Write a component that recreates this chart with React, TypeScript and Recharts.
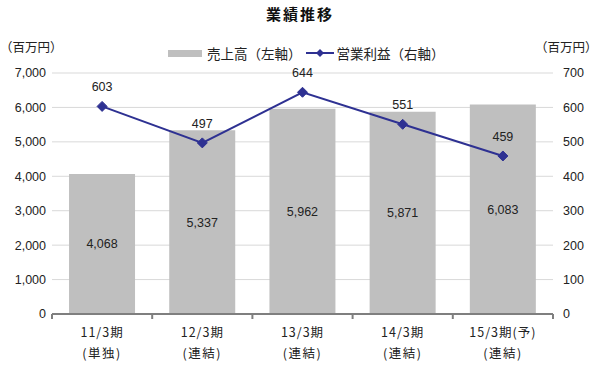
import React from "react";
import {
  ComposedChart,
  Bar,
  Line,
  XAxis,
  YAxis,
  CartesianGrid,
  LabelList,
} from "recharts";

const periods = ["11/3期", "12/3期", "13/3期", "14/3期", "15/3期(予)"];
const scopes = ["(単独)", "(連結)", "(連結)", "(連結)", "(連結)"];
const sales = [4068, 5337, 5962, 5871, 6083];
const operatingProfit = [603, 497, 644, 551, 459];
const leftTicks = [0, 1000, 2000, 3000, 4000, 5000, 6000, 7000];
const rightTicks = [0, 100, 200, 300, 400, 500, 600, 700];

const data = periods.map((p, i) => ({
  period: p,
  scope: scopes[i],
  sales: sales[i],
  profit: operatingProfit[i],
}));

const FONT = "'Liberation Sans', Arial, 'Noto Sans CJK JP', sans-serif";
const JP = "'Noto Sans CJK JP', sans-serif";
const BAR = "#bfbfbf";
const LINE = "#2e3192";
const AXIS = "#7f7f7f";

function CategoryTick(props: any) {
  const { x, y, payload, index } = props;
  const half = payload?.offset || 50;
  const row = data[index] || data.find((d) => d.period === payload.value);
  return (
    <g>
      <line x1={x - half} y1={y - 8} x2={x - half} y2={y - 3} stroke={AXIS} strokeWidth={2} />
      {index === data.length - 1 && (
        <line x1={x + half} y1={y - 8} x2={x + half} y2={y - 3} stroke={AXIS} strokeWidth={2} />
      )}
      <text x={x} y={y + 15} textAnchor="middle" fontFamily={JP} fontSize={12.5} letterSpacing={1} fill="#222">
        {payload.value}
      </text>
      <text x={x} y={y + 36} textAnchor="middle" fontFamily={JP} fontSize={12.5} letterSpacing={1.5} fill="#222">
        {row ? row.scope : ""}
      </text>
    </g>
  );
}

function Diamond(props: any) {
  const { cx, cy } = props;
  if (cx == null || cy == null) return null;
  const r = 5;
  return (
    <path
      d={`M${cx},${cy - r}L${cx + r},${cy}L${cx},${cy + r}L${cx - r},${cy}Z`}
      fill={LINE}
      stroke={LINE}
    />
  );
}

export default function App() {
  return (
    <div
      style={{
        position: "absolute",
        left: 0,
        top: 0,
        width: 600,
        height: 365,
        background: "#fff",
        fontFamily: FONT,
      }}
    >
      <div
        style={{
          position: "absolute",
          top: 3,
          width: 600,
          textAlign: "center",
          fontFamily: JP,
          fontWeight: 700,
          fontSize: 15,
          letterSpacing: 2,
          color: "#111",
        }}
      >
        業績推移
      </div>
      <div style={{ position: "absolute", left: 0, top: 37, fontFamily: JP, fontSize: 12.5, color: "#222" }}>
        （百万円）
      </div>
      <div style={{ position: "absolute", left: 535, top: 37, fontFamily: JP, fontSize: 12.5, color: "#222" }}>
        （百万円）
      </div>
      <div
        style={{
          position: "absolute",
          left: 168,
          top: 43,
          display: "flex",
          alignItems: "center",
          fontFamily: JP,
          fontSize: 13.5,
          color: "#222",
        }}
      >
        <span style={{ display: "inline-block", width: 34, height: 7, background: BAR, marginRight: 5 }} />
        <span>売上高（左軸）</span>
        <svg width={28} height={12} style={{ margin: "0 3px 0 4px" }}>
          <line x1={0} y1={6} x2={28} y2={6} stroke={LINE} strokeWidth={2} />
          <path d="M14,2L18,6L14,10L10,6Z" fill={LINE} />
        </svg>
        <span>営業利益（右軸）</span>
      </div>
      <ComposedChart
        width={600}
        height={365}
        data={data}
        margin={{ top: 73, right: 0, bottom: 0, left: 0 }}
        barCategoryGap="17%"
        style={{ position: "absolute", left: 0, top: 0 }}
      >
        <CartesianGrid vertical={false} stroke="#d9d9d9" yAxisId="left" />
        <XAxis
          dataKey="period"
          height={51}
          axisLine={{ stroke: AXIS, strokeWidth: 2 }}
          tickLine={false}
          interval={0}
          tick={<CategoryTick />}
        />
        <YAxis
          yAxisId="left"
          orientation="left"
          width={52}
          domain={[0, 7000]}
          ticks={leftTicks}
          axisLine={false}
          tickLine={false}
          tickMargin={0}
          tickFormatter={(v: number) => v.toLocaleString("en-US")}
          tick={{ fontSize: 12.5, fill: "#222", fontFamily: FONT }}
        />
        <YAxis
          yAxisId="right"
          orientation="right"
          width={47}
          domain={[0, 700]}
          ticks={rightTicks}
          axisLine={false}
          tickLine={false}
          tickMargin={4}
          tick={{ fontSize: 12.5, fill: "#222", fontFamily: FONT, textAnchor: "start" }}
        />
        <Bar yAxisId="left" dataKey="sales" fill={BAR} isAnimationActive={false}>
          <LabelList
            dataKey="sales"
            position="center"
            formatter={(v: number) => v.toLocaleString("en-US")}
            style={{ fontSize: 12.5, fill: "#222", fontFamily: FONT }}
          />
        </Bar>
        <Line
          yAxisId="right"
          dataKey="profit"
          stroke={LINE}
          strokeWidth={2}
          dot={<Diamond />}
          activeDot={false}
          isAnimationActive={false}
        >
          <LabelList
            dataKey="profit"
            position="top"
            offset={15}
            style={{ fontSize: 12.5, fill: "#222", fontFamily: FONT }}
          />
        </Line>
      </ComposedChart>
    </div>
  );
}
